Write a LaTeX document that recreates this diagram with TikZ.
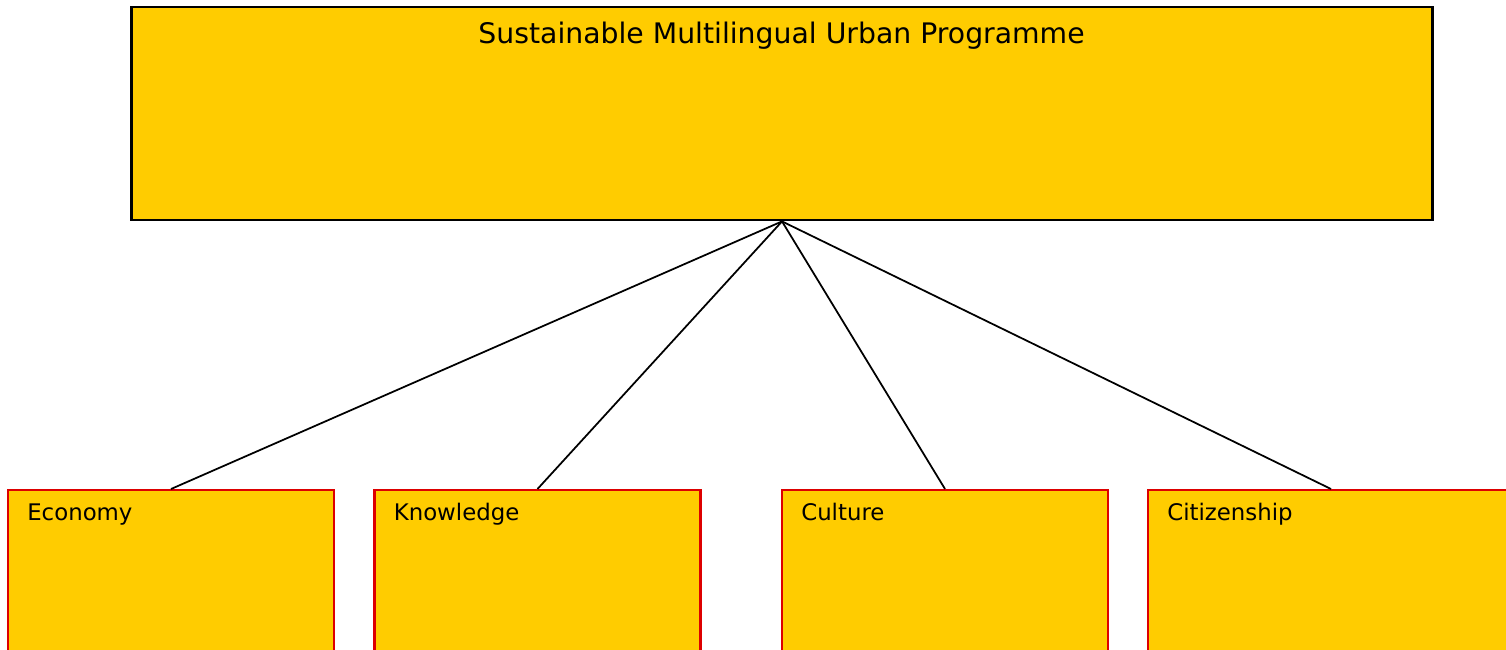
\documentclass[tikz,border=0pt]{standalone}
\usepackage{fontspec}
\setmainfont{DejaVu Sans}
\usetikzlibrary{calc}
\definecolor{boxgold}{HTML}{FFCC00}
\definecolor{boxred}{HTML}{DD0000}
\tikzset{
    progbox/.style={draw=black, line width=1.6pt, fill=boxgold, inner sep=0pt},
    themebox/.style={draw=boxred, line width=1.2pt, fill=boxgold, inner sep=0pt, minimum height=4cm},
    link/.style={draw=black, line width=1pt}
}
\begin{document}
\begin{tikzpicture}[x=0.02cm, y=-0.02cm]

            % Frame
            \useasboundingbox (0,0) rectangle (1506,649);
            \clip (0,0) rectangle (1506,649);

            % Programme box
            \node[progbox, minimum width=26.04cm, minimum height=4.26cm] (prog) at (782,113.5) {};
            \node[anchor=base, inner sep=0pt, font=\fontsize{16.1}{19}\selectfont] (progtitle) at (781.5,43) {Sustainable Multilingual Urban Programme};

            % Theme boxes
            \foreach \name/\x/\w/\txt in {econ/171/326/Economy, know/537.5/326/Knowledge, cult/945/326/Culture, citi/1331/366/Citizenship} {
                \node[themebox, minimum width=\w*0.02cm, anchor=north] (\name) at (\x,489) {};
                \node[anchor=base west, inner sep=0pt, font=\fontsize{13}{16}\selectfont] (\name-label) at ($(\name.north west)+(20,31)$) {\txt};
                \draw[link] (prog.south) -- (\name.north);
            }

\end{tikzpicture}
\end{document}
